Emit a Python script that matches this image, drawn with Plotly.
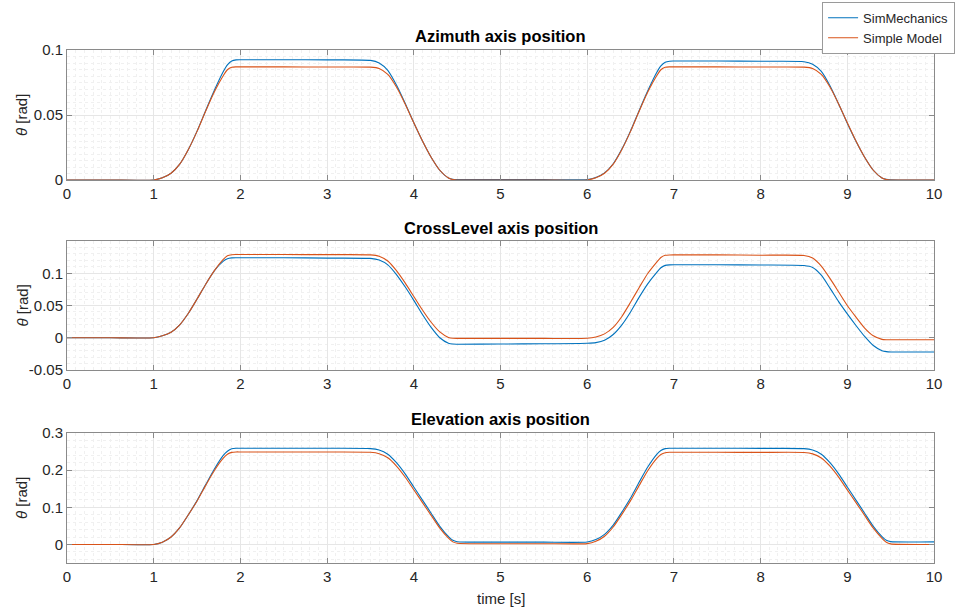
import plotly.graph_objects as go

# ---------------- data ----------------
t = [0, 0.5,
     1.0, 1.1, 1.2, 1.3, 1.4, 1.5, 1.6, 1.7, 1.8, 1.85, 1.9, 1.95, 2.0,
     2.5, 3.0,
     3.5, 3.6, 3.7, 3.8, 3.9, 4.0, 4.1, 4.2, 4.3, 4.4, 4.45, 4.5,
     5.0, 5.5,
     6.0, 6.1, 6.2, 6.3, 6.4, 6.5, 6.6, 6.7, 6.8, 6.85, 6.9, 6.95, 7.0,
     7.5, 8.0,
     8.5, 8.6, 8.7, 8.8, 8.9, 9.0, 9.1, 9.2, 9.3, 9.4, 9.45, 9.5, 10.0]

az_sim = [0, 0,
          0, 0.0017, 0.0052, 0.0122, 0.0235, 0.0376, 0.0535, 0.0690, 0.0830, 0.0885, 0.0915, 0.0924, 0.0925,
          0.0925, 0.0924,
          0.0920, 0.0900, 0.0843, 0.0730, 0.0590, 0.0440, 0.0300, 0.0175, 0.0075, 0.0015, 0.0005, 0.0003,
          0.0003, 0.0003,
          0.0004, 0.0020, 0.0055, 0.0125, 0.0238, 0.0378, 0.0535, 0.0688, 0.0825, 0.0878, 0.0906, 0.0914, 0.0915,
          0.0915, 0.0913,
          0.0910, 0.0890, 0.0835, 0.0725, 0.0585, 0.0437, 0.0298, 0.0175, 0.0075, 0.0016, 0.0005, 0.0002, 0.0]
az_simple = [0, 0,
             0, 0.0017, 0.0052, 0.0122, 0.0235, 0.0374, 0.0531, 0.0679, 0.0800, 0.0848, 0.0867, 0.0870, 0.0870,
             0.0870, 0.0869,
             0.0868, 0.0858, 0.0812, 0.0715, 0.0585, 0.0440, 0.0300, 0.0175, 0.0075, 0.0015, 0.0003, 0.0,
             0.0, 0.0,
             0.0, 0.0017, 0.0052, 0.0122, 0.0235, 0.0374, 0.0531, 0.0679, 0.0800, 0.0848, 0.0867, 0.0870, 0.0870,
             0.0870, 0.0869,
             0.0868, 0.0858, 0.0812, 0.0715, 0.0585, 0.0440, 0.0300, 0.0175, 0.0075, 0.0015, 0.0003, 0.0, 0.0]

cl_sim = [0, 0,
          0, 0.003, 0.0085, 0.020, 0.038, 0.060, 0.083, 0.104, 0.1185, 0.1225, 0.1238, 0.124, 0.124,
          0.124, 0.1235,
          0.123, 0.1205, 0.113, 0.098, 0.079, 0.058, 0.036, 0.016, 0.0, -0.0085, -0.0098, -0.010,
          -0.0098, -0.0093,
          -0.0085, -0.0075, -0.004, 0.005, 0.020, 0.040, 0.063, 0.084, 0.101, 0.1085, 0.1122, 0.1130, 0.1132,
          0.1132, 0.1128,
          0.112, 0.109, 0.097, 0.077, 0.056, 0.037, 0.019, 0.002, -0.012, -0.020, -0.0215, -0.022, -0.022]
cl_simple = [0, 0,
             0, 0.003, 0.0085, 0.020, 0.038, 0.060, 0.083, 0.104, 0.121, 0.127, 0.1288, 0.129, 0.129,
             0.129, 0.1288,
             0.1285, 0.1265, 0.119, 0.104, 0.085, 0.064, 0.043, 0.024, 0.009, 0.0005, -0.0008, -0.001,
             -0.001, -0.001,
             -0.0008, 0.0012, 0.006, 0.016, 0.033, 0.055, 0.078, 0.100, 0.117, 0.1245, 0.1278, 0.1284, 0.1285,
             0.1285, 0.128,
             0.1275, 0.1235, 0.111, 0.092, 0.071, 0.050, 0.032, 0.015, 0.003, -0.0025, -0.003, -0.003, -0.003]

el_sim = [0, 0,
          0, 0.006, 0.020, 0.045, 0.080, 0.118, 0.161, 0.203, 0.239, 0.251, 0.2575, 0.259, 0.259,
          0.259, 0.2588,
          0.258, 0.2542, 0.2429, 0.2202, 0.190, 0.1547, 0.1194, 0.0841, 0.0488, 0.0211, 0.011, 0.0073,
          0.0062, 0.0062,
          0.0065, 0.013, 0.027, 0.052, 0.087, 0.125, 0.168, 0.209, 0.242, 0.253, 0.258, 0.259, 0.259,
          0.259, 0.2585,
          0.258, 0.2542, 0.2429, 0.2202, 0.190, 0.1547, 0.1194, 0.0841, 0.0488, 0.0211, 0.011, 0.0075, 0.007]
el_simple = [0, 0,
             0, 0.006, 0.020, 0.045, 0.080, 0.117, 0.159, 0.199, 0.2316, 0.2428, 0.2478, 0.249, 0.249,
             0.249, 0.2488,
             0.248, 0.2443, 0.2332, 0.2111, 0.1816, 0.1471, 0.1127, 0.0783, 0.0438, 0.0168, 0.0069, 0.0032,
             0.002, 0.002,
             0.0022, 0.0084, 0.022, 0.047, 0.081, 0.118, 0.159, 0.199, 0.231, 0.242, 0.247, 0.248, 0.248,
             0.248, 0.2478,
             0.2475, 0.2438, 0.2327, 0.2107, 0.1813, 0.1469, 0.1125, 0.0781, 0.0437, 0.0166, 0.0060, 0.0015, 0.0]

titles = ["Azimuth axis position", "CrossLevel axis position", "Elevation axis position"]
series_names = ["SimMechanics", "Simple Model"]
x_ticks = [0, 1, 2, 3, 4, 5, 6, 7, 8, 9, 10]
x_ticktext = ["0", "1", "2", "3", "4", "5", "6", "7", "8", "9", "10"]
y_ticks = [[0, 0.05, 0.1], [-0.05, 0, 0.05, 0.1], [0, 0.1, 0.2, 0.3]]
y_ticktext = [["0", "0.05", "0.1"], ["-0.05", "0", "0.05", "0.1"], ["0", "0.1", "0.2", "0.3"]]
y_ranges = [[0, 0.1], [-0.05, 0.15], [-0.05, 0.3]]
y_minor = [0.005, 0.01, 0.02]

# ---------------- styling ----------------
W, H = 957, 610
BLUE = "#0072BD"
ORANGE = "#D95319"
FONT = "Liberation Sans, Arial, Helvetica, sans-serif"
TXT = "#262626"
AXC = "#8a8a8a"

px_left, px_right = 67, 934
px_rows = [(50, 180), (241, 370), (433, 563)]
title_px = [36, 228, 419]

fig = go.Figure()
data_rows = [(az_sim, az_simple), (cl_sim, cl_simple), (el_sim, el_simple)]

for i, (sim, simple) in enumerate(data_rows):
    ax = "" if i == 0 else str(i + 1)
    fig.add_trace(go.Scatter(x=t, y=sim, mode="lines", name=series_names[0],
                             line=dict(color=BLUE, width=1.1, shape="spline", smoothing=0.6),
                             xaxis="x" + ax, yaxis="y" + ax, showlegend=(i == 0)))
    fig.add_trace(go.Scatter(x=t, y=simple, mode="lines", name=series_names[1],
                             line=dict(color=ORANGE, width=1.1, shape="spline", smoothing=0.6),
                             xaxis="x" + ax, yaxis="y" + ax, showlegend=(i == 0)))

layout = dict(
    width=W, height=H,
    margin=dict(l=0, r=0, t=0, b=0, pad=0, autoexpand=False),
    paper_bgcolor="white", plot_bgcolor="white",
    font=dict(family=FONT, size=15, color=TXT),
    legend=dict(x=0.998, xanchor="right", y=0.997, yanchor="top",
                bgcolor="white", bordercolor="#9a9a9a", borderwidth=1,
                font=dict(size=13, color=TXT), itemwidth=30,
                tracegroupgap=0),
    annotations=[],
)

for i in range(3):
    ax = "" if i == 0 else str(i + 1)
    top, bot = px_rows[i]
    ydom = [1 - bot / H, 1 - top / H]
    xdom = [px_left / W, px_right / W]
    layout["xaxis" + ax] = dict(
        domain=xdom, range=[0, 10], anchor="y" + ax, automargin=False,
        tickmode="array", tickvals=x_ticks, ticktext=x_ticktext, ticks="inside", ticklen=5,
        tickcolor=AXC, showline=True, linecolor=AXC, linewidth=1, mirror="ticks",
        showgrid=True, gridcolor="#e6e6e6", gridwidth=1, zeroline=False,
        tickfont=dict(size=15, color=TXT),
        minor=dict(dtick=0.1, tick0=0, showgrid=True, gridcolor="#f0f0f0", griddash="dot", ticks=""),
    )
    layout["yaxis" + ax] = dict(
        domain=ydom, range=y_ranges[i], anchor="x" + ax, automargin=False,
        tickmode="array", tickvals=y_ticks[i], ticktext=y_ticktext[i], ticks="inside", ticklen=5,
        tickcolor=AXC, showline=True, linecolor=AXC, linewidth=1, mirror="ticks",
        showgrid=True, gridcolor="#e6e6e6", gridwidth=1, zeroline=False,
        tickfont=dict(size=15, color=TXT),
        minor=dict(dtick=y_minor[i], tick0=0, showgrid=True, gridcolor="#f0f0f0", griddash="dot", ticks=""),
    )
    layout["annotations"].append(dict(
        text="<b>" + titles[i] + "</b>", x=(px_left + px_right) / 2 / W, y=1 - title_px[i] / H,
        xref="paper", yref="paper", xanchor="center", yanchor="middle", showarrow=False,
        font=dict(size=16.5, color="black", family=FONT)))
    layout["annotations"].append(dict(
        text="<i>θ</i> [rad]", x=22 / W, y=1 - (top + bot) / 2 / H,
        xref="paper", yref="paper", xanchor="center", yanchor="middle", showarrow=False,
        textangle=-90, font=dict(size=15, color=TXT, family=FONT)))

layout["annotations"].append(dict(
    text="time [s]", x=(px_left + px_right) / 2 / W, y=1 - 598 / H,
    xref="paper", yref="paper", xanchor="center", yanchor="middle", showarrow=False,
    font=dict(size=15, color=TXT, family=FONT)))

fig.update_layout(**layout)
fig.write_html("out.html",
               config={"displayModeBar": False},
               post_script="document.body.style.margin='0';document.body.style.padding='0';"
                           "document.body.style.overflow='hidden';")
